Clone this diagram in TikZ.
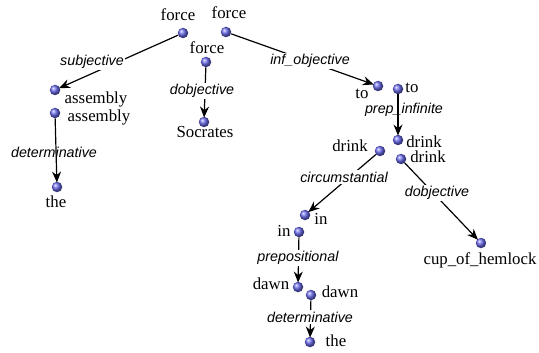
\documentclass[tikz,border=0pt]{standalone}
\usepackage{fontspec}
\setmainfont{Liberation Serif}
\setsansfont{Liberation Sans}
\usetikzlibrary{arrows.meta}
\definecolor{ballblue}{RGB}{105,105,235}
\begin{document}
\begin{tikzpicture}[x=1pt,y=-1pt,
  ballnode/.style={circle,inner sep=0pt,minimum size=10.5pt,shading=ball,ball color=ballblue},
  word/.style={anchor=base,inner sep=0pt,font=\fontsize{16.8}{19}\selectfont},
  rel/.style={inner sep=1.5pt,font=\fontsize{14.3}{16}\selectfont\sffamily\itshape},
  relfill/.style={rel,fill=white},
  edge/.style={line width=1.2pt,-{Stealth[length=11pt,width=9pt]},shorten >=-1pt}]
\useasboundingbox (0,0) rectangle (539,353);
% balls
\node[ballnode] (f1) at (183,33) {};
\node[ballnode] (f2) at (226,32) {};
\node[ballnode] (f3) at (206,62) {};
\node[ballnode] (as1) at (55,90) {};
\node[ballnode] (as2) at (55,113) {};
\node[ballnode] (soc) at (204,122) {};
\node[ballnode] (th1) at (57,187) {};
\node[ballnode] (to1) at (378,86) {};
\node[ballnode] (to2) at (398,89) {};
\node[ballnode] (dr1) at (398,140) {};
\node[ballnode] (dr2) at (380,151) {};
\node[ballnode] (dr3) at (401,159) {};
\node[ballnode] (in1) at (305,215) {};
\node[ballnode] (in2) at (299,232) {};
\node[ballnode] (dw1) at (298,287) {};
\node[ballnode] (dw2) at (311,295) {};
\node[ballnode] (th2) at (310,342) {};
\node[ballnode] (cup) at (481,243) {};
% words
\node[word] (tf1) at (178,21) {force};
\node[word] (tf2) at (229,19) {force};
\node[word] (tf3) at (207,54) {force};
\node[word] (tas1) at (96,104) {assembly};
\node[word] (tas2) at (99,122) {assembly};
\node[word] (tsoc) at (205,138) {Socrates};
\node[word] (tth1) at (56,207.5) {the};
\node[word] (tto1) at (362,99) {to};
\node[word] (tto2) at (412,93) {to};
\node[word] (tdr1) at (424,147) {drink};
\node[word] (tdr2) at (350,151) {drink};
\node[word] (tdr3) at (428,162) {drink};
\node[word] (tin1) at (321,224) {in};
\node[word] (tin2) at (284,236.5) {in};
\node[word] (tdw1) at (271,289) {dawn};
\node[word] (tdw2) at (340,297.5) {dawn};
\node[word] (tth2) at (336,346.5) {the};
\node[word] (tcup) at (480,264) {cup\_of\_hemlock};
% edges
\draw[edge] (f1) -- (as1);
\draw[edge] (f3) -- (soc);
\draw[edge] (as2) -- (th1);
\draw[edge] (f2) -- (to1);
\draw[edge] (to2) -- (dr1);
\draw[edge] (dr2) -- (in1);
\draw[edge] (dr3) -- (cup);
\draw[edge] (in2) -- (dw1);
\draw[edge] (dw2) -- (th2);
% relation labels
\node[relfill] (lsub) at (92,62) {subjective};
\node[relfill] (ldob1) at (202,91) {dobjective};
\node[rel] (ldet1) at (54,152) {determinative};
\node[relfill] (linf) at (310,61) {inf\_objective};
\node[rel] (lprep) at (404,110) {prep\_infinite};
\node[relfill] (lcirc) at (344,177) {circumstantial};
\node[relfill] (ldob2) at (437,193) {dobjective};
\node[relfill] (lpos) at (298,258) {prepositional};
\node[relfill] (ldet2) at (310,317) {determinative};
\end{tikzpicture}
\end{document}
